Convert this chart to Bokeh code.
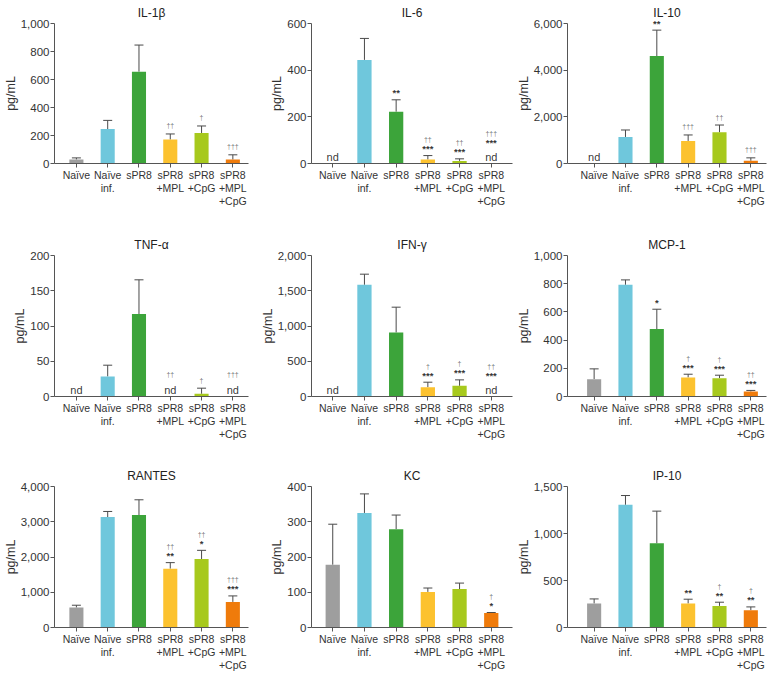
from bokeh.plotting import figure
from bokeh.layouts import gridplot
from bokeh.models import (ColumnDataSource, Whisker, TeeHead, FixedTicker,
                          NumeralTickFormatter, Range1d)
from bokeh.embed import file_html
from bokeh.resources import INLINE
from bokeh.core.properties import value

# ---------------- data ----------------
GROUP_LABELS = ["Naïve", "Naïve\ninf.", "sPR8", "sPR8\n+MPL", "sPR8\n+CpG", "sPR8\n+MPL\n+CpG"]
GROUP_COLORS = ["#9e9e9e", "#6fc7dc", "#3ca43a", "#fcc22f", "#a7c91d", "#ef7b0b"]

IL1B_MEAN = [28, 246, 656, 171, 218, 28]
IL1B_SD = [12, 62, 190, 40, 50, 34]
IL1B_ND = [False, False, False, False, False, False]
IL1B_STARS = ["", "", "", "", "", ""]
IL1B_DAGGERS = ["", "", "", "††", "†", "†††"]
IL1B_TICKS = [0, 200, 400, 600, 800, 1000]

IL6_MEAN = [0, 444, 222, 17, 11, 0]
IL6_SD = [0, 92, 51, 17, 9, 0]
IL6_ND = [True, False, False, False, False, True]
IL6_STARS = ["", "", "**", "***", "***", "***"]
IL6_DAGGERS = ["", "", "", "††", "††", "†††"]
IL6_TICKS = [0, 200, 400, 600]

IL10_MEAN = [0, 1137, 4607, 967, 1337, 114]
IL10_SD = [0, 299, 1109, 256, 312, 128]
IL10_ND = [True, False, False, False, False, False]
IL10_STARS = ["", "", "**", "", "", ""]
IL10_DAGGERS = ["", "", "", "†††", "††", "†††"]
IL10_TICKS = [0, 2000, 4000, 6000]

TNF_MEAN = [0, 28.4, 117, 0, 3.8, 0]
TNF_SD = [0, 16, 48.5, 0, 8, 0]
TNF_ND = [True, False, False, True, False, True]
TNF_STARS = ["", "", "", "", "", ""]
TNF_DAGGERS = ["", "", "", "††", "†", "†††"]
TNF_TICKS = [0, 50, 100, 150, 200]

IFN_MEAN = [0, 1584, 908, 132, 151, 0]
IFN_SD = [0, 151, 359, 71, 85, 0]
IFN_ND = [True, False, False, False, False, True]
IFN_STARS = ["", "", "", "***", "***", "***"]
IFN_DAGGERS = ["", "", "", "†", "†", "††"]
IFN_TICKS = [0, 500, 1000, 1500, 2000]

MCP1_MEAN = [123, 792, 478, 135, 130, 35]
MCP1_SD = [73, 35, 141, 23, 21, 8]
MCP1_ND = [False, False, False, False, False, False]
MCP1_STARS = ["", "", "*", "***", "***", "***"]
MCP1_DAGGERS = ["", "", "", "†", "†", "††"]
MCP1_TICKS = [0, 200, 400, 600, 800, 1000]

RANTES_MEAN = [566, 3132, 3189, 1670, 1943, 726]
RANTES_SD = [66, 160, 434, 170, 246, 170]
RANTES_ND = [False, False, False, False, False, False]
RANTES_STARS = ["", "", "", "**", "*", "***"]
RANTES_DAGGERS = ["", "", "", "††", "††", "†††"]
RANTES_TICKS = [0, 1000, 2000, 3000, 4000]

KC_MEAN = [178, 325, 279, 101, 109, 41]
KC_SD = [115, 54, 40, 11, 17, 1.5]
KC_ND = [False, False, False, False, False, False]
KC_STARS = ["", "", "", "", "", "*"]
KC_DAGGERS = ["", "", "", "", "", "†"]
KC_TICKS = [0, 100, 200, 300, 400]

IP10_MEAN = [255, 1305, 895, 255, 230, 184]
IP10_SD = [49, 99, 343, 46, 39, 35]
IP10_ND = [False, False, False, False, False, False]
IP10_STARS = ["", "", "", "**", "**", "**"]
IP10_DAGGERS = ["", "", "", "", "†", "†"]
IP10_TICKS = [0, 500, 1000, 1500]

# ---------------- layout / style ----------------
FONT = "Liberation Sans"
COL_W = [256, 257, 255]
COL_MBL = [50, 55, 52]
COL_MBR = [8, 1, 2]
COL_XR = [(-0.7, 5.5), (-0.67, 5.67), (-0.85, 5.5)]
ROW_H = [232, 231, 211]
ROW_MBT = [22, 23, 23]
FRAME_H = 141
AXIS_COLOR = "#555555"
TEXT_COLOR = "#333333"


def make_panel(title, mean, sd, nd, stars, daggers, yticks, row, col):
    h = ROW_H[row]
    p = figure(width=COL_W[col], height=h, output_backend="svg",
               toolbar_location=None, tools="",
               x_range=Range1d(*COL_XR[col]), y_range=Range1d(0, yticks[-1]),
               min_border_left=COL_MBL[col], min_border_right=COL_MBR[col],
               min_border_top=ROW_MBT[row],
               min_border_bottom=h - ROW_MBT[row] - FRAME_H)
    p.title.text = title
    p.title.align = "center"
    p.title.text_font = FONT
    p.title.text_font_size = "12px"
    p.title.text_font_style = "normal"
    p.title.text_color = "#222222"
    p.title.standoff = 7

    xs = list(range(len(GROUP_LABELS)))
    src = ColumnDataSource(dict(x=xs, mean=mean, color=GROUP_COLORS))
    p.vbar(x="x", top="mean", bottom=0, width=0.45, fill_color="color",
           line_color=None, source=src)

    wx = [i for i in xs if not nd[i] and sd[i] > 0]
    wsrc = ColumnDataSource(dict(base=wx,
                                 lower=[mean[i] for i in wx],
                                 upper=[mean[i] + sd[i] for i in wx]))
    p.add_layout(Whisker(source=wsrc, base="base", lower="lower", upper="upper",
                         line_color="#4a4a4a", line_width=1,
                         upper_head=TeeHead(size=9, line_color="#4a4a4a", line_width=1),
                         lower_head=None))

    anchor = [0 if nd[i] else mean[i] + sd[i] for i in xs]
    base = [14 if nd[i] else 0 for i in xs]
    star_off = [-(base[i] + 7) for i in xs]
    dag_off = [-(base[i] + (16 if stars[i] else 8)) for i in xs]
    asrc = ColumnDataSource(dict(x=xs, y=anchor, stars=stars, daggers=daggers,
                                 soff=star_off, doff=dag_off))
    p.text(x="x", y="y", text="stars", y_offset="soff", source=asrc,
           text_align="center", text_baseline="alphabetic",
           text_font=value(FONT), text_font_size="9.5px", text_font_style="bold",
           text_color="#1a1a1a", text_alpha=0.9, level="overlay")
    p.text(x="x", y="y", text="daggers", y_offset="doff", source=asrc,
           text_align="center", text_baseline="alphabetic",
           text_font=value(FONT), text_font_size="7px", text_color="#222222",
           text_alpha=0.65, level="overlay")

    ndx = [i for i in xs if nd[i]]
    ndsrc = ColumnDataSource(dict(x=ndx, y=[0] * len(ndx), t=["nd"] * len(ndx)))
    p.text(x="x", y="y", text="t", y_offset=-7, source=ndsrc,
           text_align="center", text_baseline="alphabetic",
           text_font=value(FONT), text_font_size="11px", text_color=TEXT_COLOR,
           text_alpha=0.99, level="overlay")

    xa = p.xaxis[0]
    xa.ticker = FixedTicker(ticks=xs)
    xa.major_label_overrides = {i: lab for i, lab in enumerate(GROUP_LABELS)}
    xa.major_tick_in = 0
    xa.major_tick_out = 4
    xa.minor_tick_line_color = None
    xa.axis_line_color = AXIS_COLOR
    xa.major_tick_line_color = AXIS_COLOR
    xa.major_label_text_font = FONT
    xa.major_label_text_font_size = "10.5px"
    xa.major_label_text_color = TEXT_COLOR
    xa.major_label_standoff = 1
    xa.major_label_text_line_height = 1.1

    ya = p.yaxis[0]
    ya.ticker = FixedTicker(ticks=yticks)
    ya.formatter = NumeralTickFormatter(format="0,0")
    ya.axis_label = "pg/mL"
    ya.axis_label_text_font = FONT
    ya.axis_label_text_font_style = "normal"
    ya.axis_label_text_font_size = "12.5px"
    ya.axis_label_text_color = TEXT_COLOR
    ya.axis_label_standoff = 0
    ya.major_tick_in = 0
    ya.major_tick_out = 4
    ya.minor_tick_line_color = None
    ya.axis_line_color = AXIS_COLOR
    ya.major_tick_line_color = AXIS_COLOR
    ya.major_label_text_font = FONT
    ya.major_label_text_font_size = "11.5px"
    ya.major_label_text_color = TEXT_COLOR
    ya.major_label_standoff = 1

    p.xgrid.grid_line_color = None
    p.ygrid.grid_line_color = None
    p.outline_line_color = None
    p.background_fill_color = "white"
    p.border_fill_color = "white"
    return p


panels = [
    make_panel("IL-1β", IL1B_MEAN, IL1B_SD, IL1B_ND, IL1B_STARS, IL1B_DAGGERS, IL1B_TICKS, 0, 0),
    make_panel("IL-6", IL6_MEAN, IL6_SD, IL6_ND, IL6_STARS, IL6_DAGGERS, IL6_TICKS, 0, 1),
    make_panel("IL-10", IL10_MEAN, IL10_SD, IL10_ND, IL10_STARS, IL10_DAGGERS, IL10_TICKS, 0, 2),
    make_panel("TNF-α", TNF_MEAN, TNF_SD, TNF_ND, TNF_STARS, TNF_DAGGERS, TNF_TICKS, 1, 0),
    make_panel("IFN-γ", IFN_MEAN, IFN_SD, IFN_ND, IFN_STARS, IFN_DAGGERS, IFN_TICKS, 1, 1),
    make_panel("MCP-1", MCP1_MEAN, MCP1_SD, MCP1_ND, MCP1_STARS, MCP1_DAGGERS, MCP1_TICKS, 1, 2),
    make_panel("RANTES", RANTES_MEAN, RANTES_SD, RANTES_ND, RANTES_STARS, RANTES_DAGGERS, RANTES_TICKS, 2, 0),
    make_panel("KC", KC_MEAN, KC_SD, KC_ND, KC_STARS, KC_DAGGERS, KC_TICKS, 2, 1),
    make_panel("IP-10", IP10_MEAN, IP10_SD, IP10_ND, IP10_STARS, IP10_DAGGERS, IP10_TICKS, 2, 2),
]

grid = gridplot([panels[0:3], panels[3:6], panels[6:9]], toolbar_location=None)

with open("out.html", "w") as f:
    f.write(file_html(grid, INLINE, title="Cytokines"))
